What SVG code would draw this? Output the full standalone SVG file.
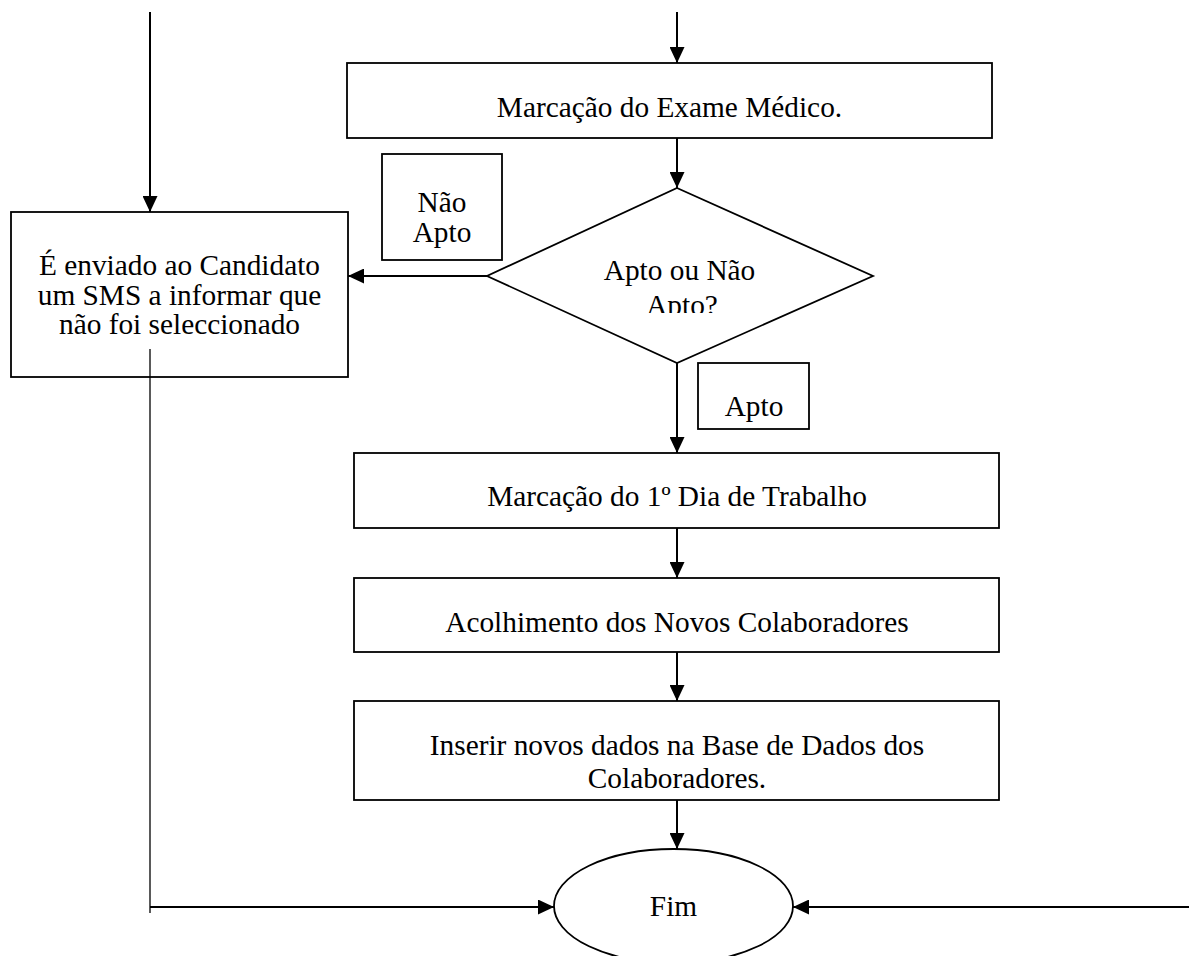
<svg xmlns="http://www.w3.org/2000/svg" width="1189" height="956" viewBox="0 0 1189 956">
<style>
.box{fill:#fff;stroke:#000;stroke-width:1.8}
.t{font-family:"Liberation Serif","Times New Roman",serif;font-size:29.33px;fill:#000;text-anchor:middle}
.c{fill:none;stroke:#000;stroke-width:2}
.thin{fill:none;stroke:#000;stroke-width:1.3}
</style>
<defs>
<marker id="ah" viewBox="0 0 16 15" refX="16" refY="7.5" markerWidth="16" markerHeight="15" markerUnits="userSpaceOnUse" orient="auto">
<path d="M0,0 L16,7.5 L0,15 z" fill="#000"/>
</marker>
<clipPath id="dclip"><rect x="480" y="180" width="400" height="133"/></clipPath>
</defs>
<rect width="1189" height="956" fill="#fff"/>

<g id="n-exame">
<rect class="box" x="347" y="63" width="645" height="75"/>
<text class="t" x="669.5" y="117">Marcação do Exame Médico.</text>
</g>

<g id="n-decisao">
<polygon class="box" points="677,188 873,276 677,363 487,276"/>
<g clip-path="url(#dclip)">
<text class="t" x="679.5" y="280">Apto ou Não</text>
<text class="t" x="682" y="315">Apto?</text>
</g>
</g>

<g id="n-label-naoapto">
<rect class="box" x="382" y="154" width="120" height="106"/>
<text class="t" x="442" y="212">Não</text>
<text class="t" x="442" y="242">Apto</text>
</g>

<g id="n-sms">
<rect class="box" x="11" y="212" width="337" height="165"/>
<text class="t" x="179.5" y="275">É enviado ao Candidato</text>
<text class="t" x="179.5" y="305">um SMS a informar que</text>
<text class="t" x="179.5" y="334">não foi seleccionado</text>
</g>

<g id="n-label-apto">
<rect class="box" x="698" y="363" width="111" height="66"/>
<text class="t" x="754" y="416">Apto</text>
</g>

<g id="n-dia">
<rect class="box" x="354" y="453" width="645" height="75"/>
<text class="t" x="677" y="506">Marcação do 1º Dia de Trabalho</text>
</g>

<g id="n-acolhimento">
<rect class="box" x="354" y="578" width="645" height="74"/>
<text class="t" x="677" y="632">Acolhimento dos Novos Colaboradores</text>
</g>

<g id="n-inserir">
<rect class="box" x="354" y="701" width="645" height="99"/>
<text class="t" x="677" y="755">Inserir novos dados na Base de Dados dos</text>
<text class="t" x="677" y="788">Colaboradores.</text>
</g>

<g id="n-fim">
<ellipse class="box" cx="673.5" cy="906" rx="119.5" ry="57"/>
<text class="t" x="673.5" y="916">Fim</text>
</g>

<g id="connectors">
<line class="c" x1="150" y1="12" x2="150" y2="212" marker-end="url(#ah)"/>
<line class="c" x1="677" y1="12" x2="677" y2="63" marker-end="url(#ah)"/>
<line class="c" x1="677" y1="138" x2="677" y2="188" marker-end="url(#ah)"/>
<line class="c" x1="487" y1="276" x2="348" y2="276" marker-end="url(#ah)"/>
<line class="c" x1="677" y1="363" x2="677" y2="453" marker-end="url(#ah)"/>
<line class="c" x1="677" y1="528" x2="677" y2="578" marker-end="url(#ah)"/>
<line class="c" x1="677" y1="652" x2="677" y2="701" marker-end="url(#ah)"/>
<line class="c" x1="677" y1="800" x2="677" y2="849" marker-end="url(#ah)"/>
<line class="thin" x1="150" y1="349" x2="150" y2="913"/>
<line class="c" x1="150" y1="907" x2="554" y2="907" marker-end="url(#ah)"/>
<line class="c" x1="1189" y1="907" x2="793" y2="907" marker-end="url(#ah)"/>
</g>
</svg>
